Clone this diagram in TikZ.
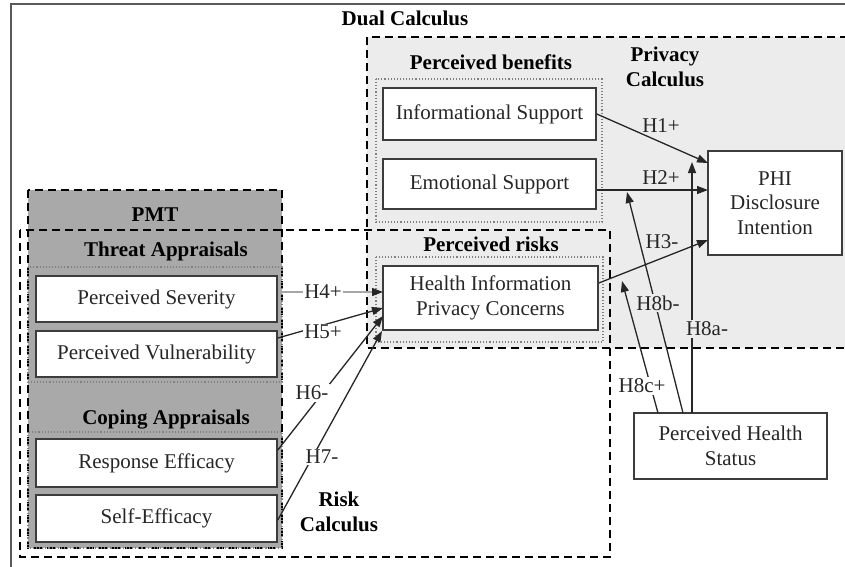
\documentclass[tikz,border=0pt]{standalone}
\usepackage{fontspec}
\setmainfont{Liberation Serif}
\usetikzlibrary{arrows.meta}

\definecolor{privgray}{HTML}{ECECEC}
\definecolor{pmtgray}{HTML}{A9A9A9}
\definecolor{ink}{HTML}{262626}
\definecolor{boxline}{HTML}{3C3C3C}

\begin{document}
\begin{tikzpicture}[x=1pt,y=-1pt,
  every node/.style={font=\fontsize{21}{24.5}\selectfont, text=ink},
  frame/.style={draw=boxline!85, line width=1.5pt},
  groupbox/.style={draw=black, line width=1.8pt, dash pattern=on 8pt off 5pt},
  subgroup/.style={draw=gray, line width=1.1pt, dotted},
  construct/.style={draw=boxline, line width=1.6pt, fill=white, align=center, inner sep=0pt},
  heading/.style={font=\fontsize{21}{24.5}\selectfont\bfseries, text=black, align=center, inner sep=0pt},
  link/.style={draw=ink, line width=1.3pt, -{Triangle[length=11pt,width=8pt]}},
  hyp/.style={inner sep=1.5pt},
]
\useasboundingbox (0,0) rectangle (845,566);
\clip (0,0) rectangle (845,566);
\fill[white] (0,0) rectangle (845,566);

% outer frame of the dual calculus
\draw[frame] (11,4) rectangle (870,590);

% privacy calculus region
\fill[privgray] (367,37) rectangle (870,348);
\draw[groupbox] (870,348) -- (367,348) -- (367,37) -- (870,37);

% PMT block
\fill[pmtgray] (28,190) rectangle (282,548);
\draw[groupbox] (28,190) rectangle (282,548);
\draw[subgroup] (28,267) rectangle (282,382);
\draw[subgroup] (28,432) rectangle (282,548);

% risk calculus region
\draw[groupbox] (20,230) rectangle (610,557);

% benefit and risk subgroups
\draw[subgroup] (376,79) rectangle (602,222);
\draw[subgroup] (376,257) rectangle (603,342);

% headings
\node[heading] (dual) at (405,18) {Dual Calculus};
\node[heading] (benefits) at (491,62) {Perceived benefits};
\node[heading] (privcalc) at (665,67) {Privacy\\Calculus};
\node[heading] (risks) at (491,244) {Perceived risks};
\node[heading] (pmt) at (155,215) {PMT};
\node[heading] (threat) at (166,251) {Threat Appraisals};
\node[heading] (coping) at (166,420) {Coping Appraisals};
\node[heading] (riskcalc) at (339,512) {Risk\\Calculus};

% constructs
\node[construct, minimum width=213pt, minimum height=52pt] (inf) at (489.5,114) {Informational Support};
\node[construct, minimum width=213pt, minimum height=50pt] (emo) at (489.5,184) {Emotional Support};
\node[construct, minimum width=215pt, minimum height=64pt] (hipc) at (490.5,298) {Health Information\\Privacy Concerns};
\node[construct, minimum width=134pt, minimum height=104pt] (phi) at (775,203) {PHI\\Disclosure\\Intention};
\node[construct, minimum width=193pt, minimum height=66pt, line width=1.3pt] (phs) at (730.5,446) {Perceived Health\\Status};
\node[construct, minimum width=241pt, minimum height=46pt] (ps) at (156.5,299) {Perceived Severity};
\node[construct, minimum width=241pt, minimum height=46pt] (pv) at (156.5,354) {Perceived Vulnerability};
\node[construct, minimum width=241pt, minimum height=48pt] (re) at (156.5,463) {Response Efficacy};
\node[construct, minimum width=241pt, minimum height=47pt] (se) at (156.5,518.5) {Self-Efficacy};

% connector end points
\coordinate (p1) at (708,163);
\coordinate (p2) at (708,190);
\coordinate (p3) at (708,240);
\coordinate (h3s) at (598,283);
\coordinate (t4) at (383,292);
\coordinate (t5) at (383,308);
\coordinate (t6) at (383,316);
\coordinate (t7) at (382,331);
\coordinate (s5) at (282,338);
\coordinate (s6) at (280,450);
\coordinate (s7) at (280,520);
\coordinate (b8a) at (692,413);
\coordinate (b8b) at (683,413);
\coordinate (b8c) at (658,413);
\coordinate (t8a) at (692,162);
\coordinate (t8b) at (627,192);
\coordinate (t8c) at (622,281);

% hypothesised paths
\draw[link] (inf.east) -- (p1);
\draw[link] (emo.east |- p2) -- (p2);
\draw[link] (hipc.east |- h3s) -- (p3);
\draw[link, draw=gray!70, -{Triangle[length=11pt,width=8pt,color=ink]}] (ps.east |- t4) -- (t4);
\draw[link] (pv.east |- s5) -- (t5);
\draw[link] (re.east |- s6) -- (t6);
\draw[link] (se.east |- s7) -- (t7);
\draw[link] (b8a) -- (t8a);
\draw[link] (b8b) -- (t8b);
\draw[link] (b8c) -- (t8c);

% hypothesis labels
\node[hyp] (h1) at (661,126) {H1+};
\node[hyp] (h2) at (661,178) {H2+};
\node[hyp] (h3) at (662,242) {H3-};
\node[hyp, fill=white] (h4) at (323,292) {H4+};
\node[hyp, fill=white] (h5) at (323,332) {H5+};
\node[hyp, fill=white] (h6) at (312,393) {H6-};
\node[hyp, fill=white] (h7) at (322,457) {H7-};
\node[hyp, fill=privgray] (h8b) at (658,303) {H8b-};
\node[hyp, fill=privgray] (h8a) at (707,329) {H8a-};
\node[hyp, fill=white] (h8c) at (642,386) {H8c+};
\end{tikzpicture}
\end{document}
